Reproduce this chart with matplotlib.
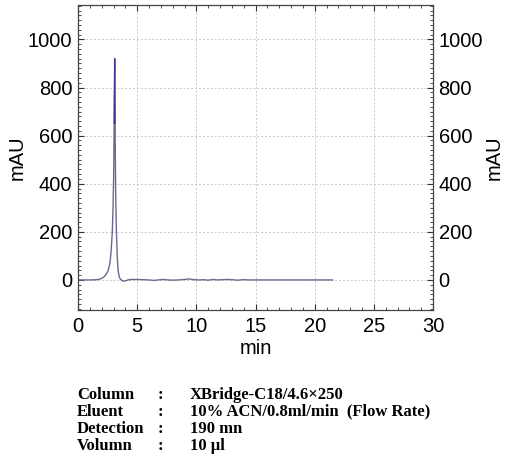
import matplotlib
matplotlib.use("Agg")
import matplotlib.pyplot as plt
from matplotlib.ticker import MultipleLocator
from matplotlib.patches import Rectangle

# chromatogram trace (min, mAU)
time_min = [0.0, 1.0, 1.6, 1.8, 2.0, 2.2, 2.4, 2.55, 2.7, 2.8, 2.9, 2.96, 3.01, 3.05, 3.1,
            3.14, 3.18, 3.22, 3.26, 3.32, 3.4, 3.5, 3.65, 3.85, 4.05, 4.3, 4.6, 5.0,
            5.5, 6.0, 6.4, 6.8, 7.2, 7.6, 8.0, 8.5, 9.0, 9.4, 9.8, 10.2, 10.6, 11.0, 11.4,
            11.8, 12.2, 12.6, 13.0, 13.5, 14.0, 14.5, 15.0, 16.0, 17.0, 18.0, 19.0, 20.0, 21.5]
signal_mau = [0, 0, 1, 3, 6, 13, 25, 40, 70, 120, 200, 300, 420, 620, 920,
              620, 380, 260, 180, 90, 35, 10, 0, -5, -3, 1, 2, 2,
              1, 0, -2, 0, 2, 0, -1, 0, 2, 4, 1, 0, 1, -1, 2,
              0, 1, 2, 1, -1, 1, 0, 0, 0, 0, 0, 0, 0, 0]

x_ticks = [0, 5, 10, 15, 20, 25, 30]
y_ticks = [0, 200, 400, 600, 800, 1000]

info_keys = ["Column", "Eluent", "Detection", "Volumn"]
info_vals = ["XBridge-C18/4.6\u00d7250", "10% ACN/0.8ml/min  (Flow Rate)", "190 mn", "10 \u03bcl"]

W, H = 509, 463
fig = plt.figure(figsize=(W / 100, H / 100), dpi=100)
ax = fig.add_axes([78 / W, 1 - 310 / H, (433 - 78) / W, (310 - 5) / H])

ax.plot(time_min, signal_mau, color="#6a6a8c", lw=1.0)
top_line, = ax.plot(time_min, signal_mau, color="#3a3a90", lw=0.8)
top_line.set_clip_path(Rectangle((0, 650), 30, 600, transform=ax.transData))

ax.set_xlim(0, 30)
ax.set_ylim(-125, 1143)
ax.set_xticks(x_ticks)
ax.set_yticks(y_ticks)
ax.xaxis.set_minor_locator(MultipleLocator(1))
ax.yaxis.set_minor_locator(MultipleLocator(20))
ax.grid(True, which="major", color="#c8c8c8", ls=(0, (2, 2)), lw=0.7)
ax.tick_params(which="both", direction="in", top=True, right=True, labelright=True, color="#333333")
ax.tick_params(which="major", length=4, labelsize=14.5)
ax.tick_params(axis="x", which="major", pad=5)
ax.tick_params(axis="y", which="major", pad=4)
ax.tick_params(which="minor", length=2)
for s in ax.spines.values():
    s.set_color("#444444")
    s.set_linewidth(0.9)
fam = ["Liberation Sans", "DejaVu Sans"]
for lab in ax.xaxis.get_ticklabels() + ax.yaxis.get_ticklabels():
    lab.set_fontfamily(fam)
ax.set_xlabel("min", fontsize=14.5, family=fam, labelpad=2)
ax.set_ylabel("mAU", fontsize=14.5, family=fam, labelpad=1)
ax2 = ax.secondary_yaxis("right")
ax2.set_yticks([])
ax2.spines["right"].set_visible(False)
ax2.set_ylabel("mAU", fontsize=14.5, family=fam, labelpad=37)

serif = ["Liberation Serif", "DejaVu Serif"]
kw = dict(fontsize=12, fontweight="bold", family=serif, va="top", linespacing=1.07)
top = 1 - 387 / H
fig.text(77 / W, top, "\n".join(info_keys), **kw)
fig.text(158 / W, top, "\n".join([":"] * len(info_keys)), **kw)
fig.text(190 / W, top, "\n".join(info_vals), **kw)

fig.savefig("out.png", dpi=100)
